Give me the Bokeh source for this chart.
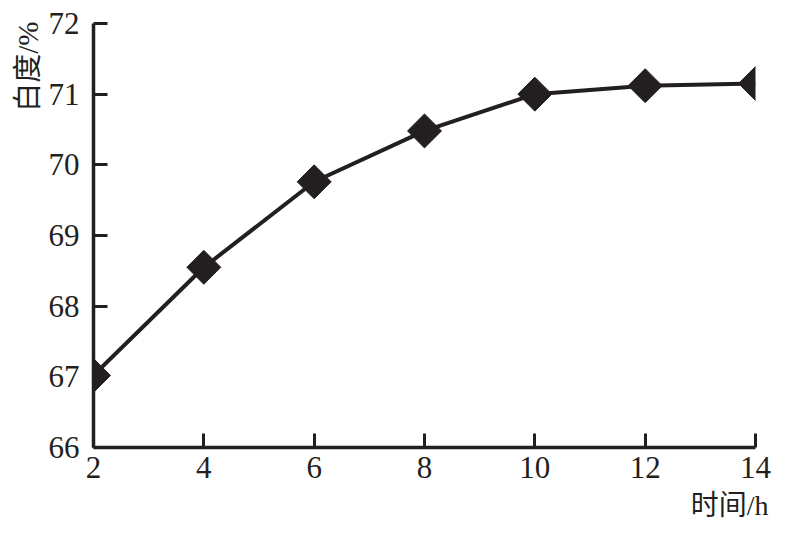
import math
from bokeh.plotting import figure
from bokeh.models import Title, FixedTicker, Range1d
from bokeh.embed import file_html
from bokeh.resources import INLINE

time_h = [2, 4, 6, 8, 10, 12, 14]
whiteness = [67.02, 68.55, 69.76, 70.48, 71.0, 71.12, 71.15]
x_ticks = [2, 4, 6, 8, 10, 12, 14]
y_ticks = [66, 67, 68, 69, 70, 71, 72]
x_label = "时间/h"
y_label = "白度/%"

FONT = "'Liberation Serif', 'Noto Sans CJK SC'"
INK = "#231f20"

p = figure(width=774, height=530, output_backend="svg", toolbar_location=None,
           x_range=Range1d(2, 14), y_range=Range1d(66, 72),
           min_border_left=93, min_border_right=19, min_border_top=23, min_border_bottom=83)
p.outline_line_color = None
p.grid.visible = False
p.background_fill_color = "white"

for ax in (p.xaxis[0], p.yaxis[0]):
    ax.axis_line_width = 3.5
    ax.axis_line_color = INK
    ax.major_tick_line_width = 3
    ax.major_tick_line_color = INK
    ax.major_tick_in = 14
    ax.major_tick_out = 0
    ax.minor_tick_line_color = None
    ax.major_label_text_font = FONT
    ax.major_label_text_font_size = "31px"
    ax.major_label_text_color = INK

p.xaxis.ticker = FixedTicker(ticks=x_ticks)
p.yaxis.ticker = FixedTicker(ticks=y_ticks)
p.xaxis.major_label_standoff = 9
p.yaxis.major_label_standoff = 14

p.line(time_h, whiteness, line_width=4, line_color=INK)
p.scatter(time_h, whiteness, marker="square", angle=math.pi / 4, size=24,
          fill_color=INK, line_color=INK)

p.add_layout(Title(text=x_label, align="right", text_font=FONT, text_font_size="28px",
                   text_color=INK, text_font_style="normal", offset=-13, standoff=15), "below")
p.add_layout(Title(text=y_label, align="right", text_font=FONT, text_font_size="29px",
                   text_color=INK, text_font_style="normal", offset=-2, standoff=4), "left")

open("out.html", "w").write(file_html(p, INLINE))
